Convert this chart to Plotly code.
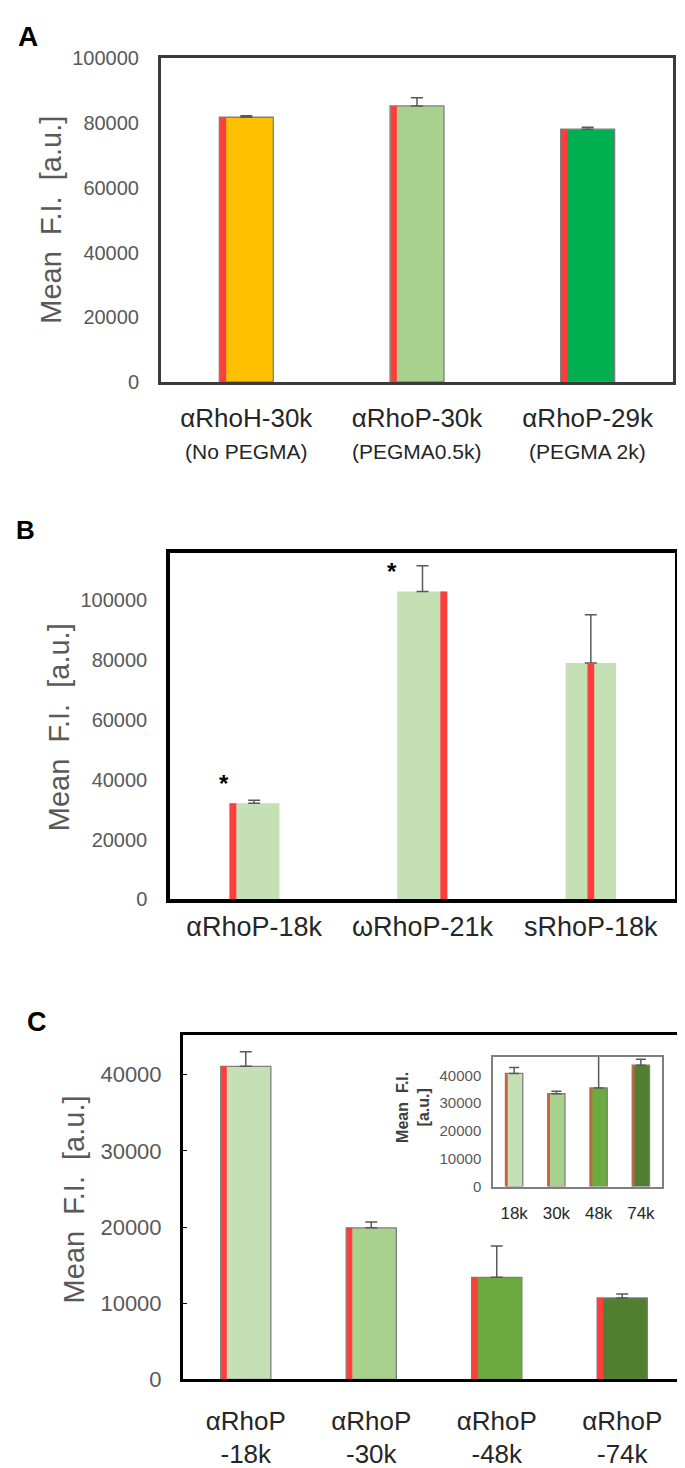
import plotly.graph_objects as go

W, H = 685, 1468

# ---- data ----
a_cats = ['αRhoH-30k', 'αRhoP-30k', 'αRhoP-29k']
a_sub = ['(No PEGMA)', '(PEGMA0.5k)', '(PEGMA 2k)']
a_vals = [81800, 85300, 78100]
a_err = [500, 2500, 600]

b_cats = ['αRhoP-18k', 'ωRhoP-21k', 'sRhoP-18k']
b_vals = [32100, 102900, 79000]
b_err = [1000, 8600, 16100]
b_stars = ['*', '*', '']

c_cats = ['αRhoP-18k', 'αRhoP-30k', 'αRhoP-48k', 'αRhoP-74k']
c_vals = [41100, 19900, 13400, 10700]
c_err = [1900, 750, 4100, 500]

inset_cats = ['18k', '30k', '48k', '74k']
inset_vals = [40700, 33400, 35500, 43650]
inset_err = [2100, 900, 12500, 2150]

a_colors = ['#ffc000', '#a9d18e', '#00b050']
b_colors = ['#c5e0b4', '#c5e0b4', '#c5e0b4']
c_colors = ['#c5e0b4', '#a9d18e', '#6aaa3e', '#4f7f2f']
RED = '#ff3d3d'
GREY = '#595959'
FONT = 'Arial, Liberation Sans, sans-serif'


def px_x(x):
    return x / W


def px_y(y):
    return 1 - y / H


def add_bars(fig, cats, vals, err, colors, width, strip_w, strip_pos, xa, ya,
             outline=True, strip_color=RED, cap=6):
    n = len(cats)
    fig.add_trace(go.Bar(
        x=cats, y=vals, width=width, offset=-width / 2,
        marker=dict(color=colors,
                    line=dict(color='#7f7f7f', width=1.3 if outline else 0)),
        error_y=dict(type='data', array=err, arrayminus=[0] * n, symmetric=False,
                     color=GREY, thickness=1.5, width=cap),
        xaxis=xa, yaxis=ya, showlegend=False, hoverinfo='skip'))
    # thin red strip drawn over each bar
    offs = []
    for p in strip_pos:
        if p == 'left':
            offs.append(-width / 2 + 0.004)
        elif p == 'right':
            offs.append(width / 2 - strip_w - 0.004)
        else:
            offs.append(-strip_w / 2)
    fig.add_trace(go.Bar(
        x=cats, y=vals, width=strip_w, offset=offs,
        marker=dict(color=strip_color, line=dict(width=0)),
        xaxis=xa, yaxis=ya, showlegend=False, hoverinfo='skip'))


fig = go.Figure()

add_bars(fig, a_cats, a_vals, a_err, a_colors, 0.316, 0.036, ['left'] * 3, 'x', 'y')
add_bars(fig, b_cats, b_vals, b_err, b_colors, 0.30, 0.04,
         ['left', 'right', 'center'], 'x2', 'y2', outline=False)
add_bars(fig, c_cats, c_vals, c_err, c_colors, 0.40, 0.045, ['left'] * 4, 'x3', 'y3')
add_bars(fig, inset_cats, inset_vals, inset_err, c_colors, 0.41, 0.05, ['left'] * 4,
         'x4', 'y4', strip_color='#d0603f', cap=5)


def xax(dom, anchor, n, color, lw, size, standoff, ticktext, cats):
    return dict(domain=dom, anchor=anchor, type='category', range=[-0.5, n - 0.5],
                showline=True, mirror=True, linecolor=color, linewidth=lw,
                ticks='', showgrid=False, tickvals=cats, ticktext=ticktext,
                tickfont=dict(size=size, color='#262626', family=FONT),
                ticklabelstandoff=standoff, fixedrange=True)


def yax(dom, anchor, rng, tickvals, color, lw, size, ticks='', standoff=15):
    return dict(domain=dom, anchor=anchor, range=rng, tickvals=tickvals, tickformat='d',
                showline=True, mirror=True, linecolor=color, linewidth=lw,
                showgrid=False, zeroline=False, ticks=ticks, ticklen=4,
                tickcolor=color, tickfont=dict(size=size, color=GREY, family=FONT),
                ticklabelstandoff=standoff, fixedrange=True)


c_text = [c.replace('-', '<br>-', 1) for c in c_cats]

fig.update_layout(
    width=W, height=H, margin=dict(l=0, r=0, t=0, b=0),
    paper_bgcolor='white', plot_bgcolor='white', barmode='overlay',
    font=dict(family=FONT, color=GREY),
    xaxis=xax([px_x(153), px_x(665)], 'y', 3, '#3a3a3a', 3, 26, 11, a_cats, a_cats),
    yaxis=yax([px_y(369), px_y(40)], 'x', [0, 100000],
              [0, 20000, 40000, 60000, 80000, 100000], '#3a3a3a', 3, 20),
    xaxis2=xax([px_x(162), px_x(667)], 'y2', 3, 'black', 3.5, 27, 0, b_cats, b_cats),
    yaxis2=yax([px_y(895), px_y(543)], 'x2', [0, 115700],
               [0, 20000, 40000, 60000, 80000, 100000], 'black', 3.5, 20),
    xaxis3=xax([px_x(175), px_x(677)], 'y3', 4, 'black', 3, 26, 16, c_text, c_cats),
    yaxis3=yax([px_y(1383), px_y(1033)], 'x3', [0, 45200],
               [0, 10000, 20000, 30000, 40000], 'black', 3, 22, ticks='inside', standoff=14),
    xaxis4=xax([px_x(485), px_x(654)], 'y4', 4, '#7f7f7f', 1.5, 17, 10, inset_cats, inset_cats),
    yaxis4=yax([px_y(1187), px_y(1055)], 'x4', [0, 46700],
               [0, 10000, 20000, 30000, 40000], '#7f7f7f', 1.5, 15, standoff=7),
)

ann = []
# second line of panel A category labels
for i, s in enumerate(a_sub):
    ann.append(dict(text=s, x=i, y=px_y(440), xref='x', yref='paper',
                    xanchor='center', yanchor='middle', showarrow=False,
                    font=dict(size=21, color='#262626', family=FONT)))
# panel letters
for letter, x, y, s in [('A', 8, 18, 28), ('B', 6, 520, 26), ('C', 17, 1020, 27)]:
    ann.append(dict(text=f'<b>{letter}</b>', x=px_x(x), y=px_y(y), xref='paper', yref='paper',
                    xanchor='left', yanchor='middle', showarrow=False,
                    font=dict(size=s, color='black', family=FONT)))
# y titles
for x, y, txt in [(43, 204, 'Mean  F.I.  [a.u.]'), (51, 720, 'Mean  F.I.  [a.u.]'),
                  (66, 1200, 'Mean  F.I.  [a.u.]')]:
    ann.append(dict(text=txt, x=px_x(x), y=px_y(y), xref='paper', yref='paper',
                    xanchor='center', yanchor='middle', textangle=-90, showarrow=False,
                    font=dict(size=29, color=GREY, family=FONT)))
ann.append(dict(text='<b>Mean  F.I.<br>[a.u.]</b>', x=px_x(405), y=px_y(1107),
                xref='paper', yref='paper', xanchor='center', yanchor='middle',
                textangle=-90, showarrow=False,
                font=dict(size=16, color='#404040', family=FONT)))
# significance stars
for i, (s, v) in enumerate(zip(b_stars, b_vals)):
    if s:
        ann.append(dict(text=f'<b>{s}</b>', x=i - 0.18, y=v + 1500, xref='x2', yref='y2',
                        showarrow=False, yanchor='bottom',
                        font=dict(size=24, color='black', family=FONT)))
fig.update_layout(annotations=ann)

fig.write_html("out.html")
